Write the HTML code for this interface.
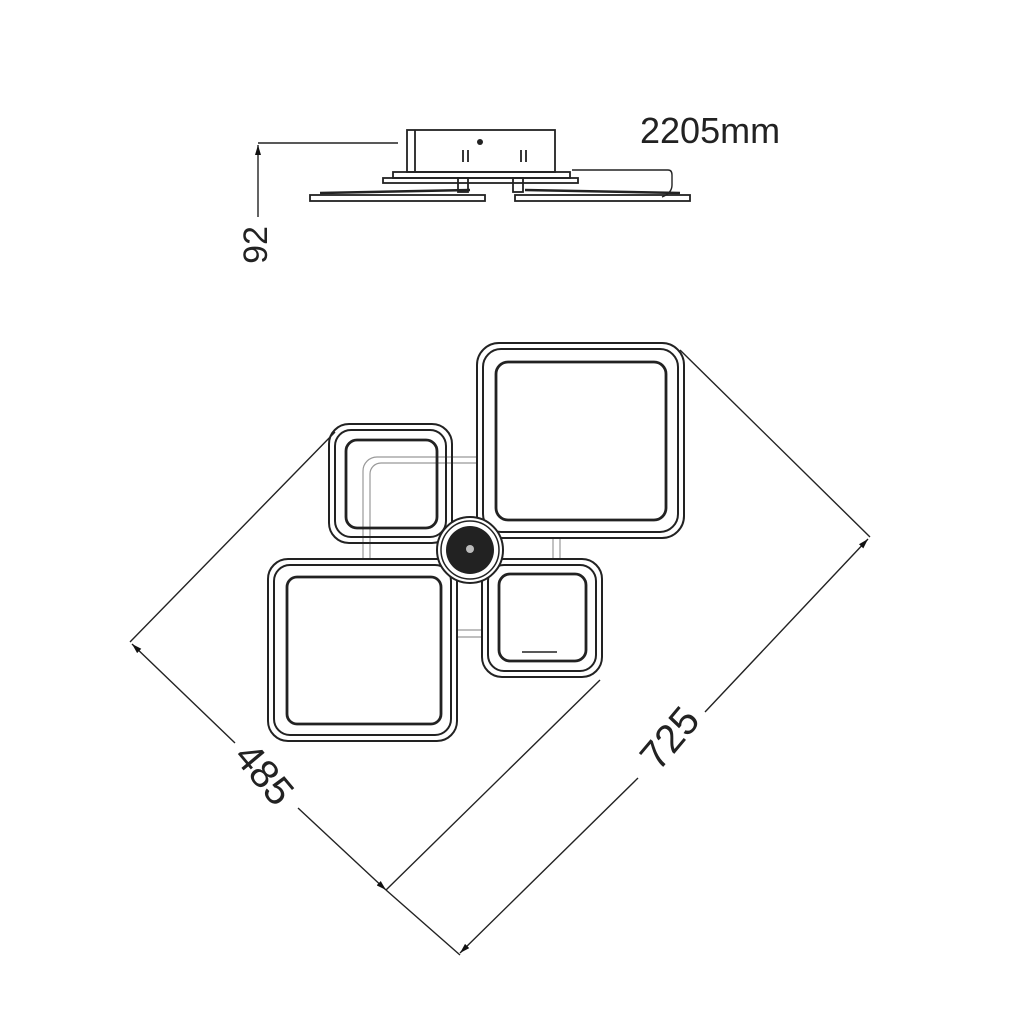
<!DOCTYPE html>
<html><head><meta charset="utf-8"><style>
html,body{margin:0;padding:0;background:#fff;width:1024px;height:1024px;overflow:hidden}
svg{display:block}
text{font-family:"Liberation Sans",sans-serif;fill:#222}
</style></head><body>
<svg width="1024" height="1024" viewBox="0 0 1024 1024" xmlns="http://www.w3.org/2000/svg">
<defs>
<marker id="ar" viewBox="0 0 10 10" refX="10" refY="5" markerWidth="10" markerHeight="10" orient="auto-start-reverse" markerUnits="userSpaceOnUse"><path d="M0,2 L10,5 L0,8 z" fill="#111"/></marker>
</defs>
<g stroke="#222" stroke-width="1.8" fill="none">
<rect x="407" y="130" width="148" height="42"/>
<line x1="415" y1="130" x2="415" y2="172"/>
<rect x="393" y="172" width="177" height="6"/>
<rect x="383" y="178" width="195" height="5"/>
<rect x="458" y="178" width="10" height="14"/>
<rect x="513" y="178" width="10" height="14"/>
<rect x="310" y="195" width="175" height="6"/>
<rect x="515" y="195" width="175" height="6"/>
<line x1="320" y1="193" x2="470" y2="190" stroke-width="2.5"/>
<line x1="525" y1="190" x2="680" y2="193" stroke-width="2.5"/>
<line x1="463" y1="150" x2="463" y2="162"/><line x1="468" y1="150" x2="468" y2="162"/>
<line x1="521" y1="150" x2="521" y2="162"/><line x1="526" y1="150" x2="526" y2="162"/>
</g>
<circle cx="480" cy="142" r="3" fill="#222"/>
<g stroke="#222" stroke-width="1.4" fill="none">
<line x1="258" y1="143" x2="398" y2="143"/>
<line x1="258" y1="217" x2="258" y2="145" marker-end="url(#ar)"/>
<path d="M572,170 L668,170 Q672,170 672,175 L672,185 Q672,193 662,197"/>
</g>
<text x="640" y="143" font-size="36">2205mm</text>
<text transform="translate(258,245) rotate(-90)" font-size="34" text-anchor="middle" dominant-baseline="middle">92</text>
<g stroke="#999" stroke-width="1.2" fill="none">
<rect x="363" y="457" width="197" height="180" rx="14"/>
<rect x="370" y="463" width="183" height="167" rx="11"/>
</g>
<g stroke="#222" fill="#fff" stroke-width="2">
<rect x="477" y="343" width="207" height="195" rx="22"/>
<rect x="483" y="349" width="195" height="183" rx="18" fill="none"/>
<rect x="496" y="362" width="170" height="158" rx="12" fill="none" stroke-width="2.8"/>
<rect x="329" y="424" width="123" height="119" rx="20" fill="none"/>
<rect x="335" y="430" width="111" height="107" rx="16" fill="none"/>
<rect x="346" y="440" width="91" height="88" rx="11" fill="none" stroke-width="2.8"/>
<rect x="268" y="559" width="189" height="182" rx="20"/>
<rect x="274" y="565" width="177" height="170" rx="16" fill="none"/>
<rect x="287" y="577" width="154" height="147" rx="10" fill="none" stroke-width="2.8"/>
<rect x="482" y="559" width="120" height="118" rx="20"/>
<rect x="488" y="565" width="108" height="106" rx="16" fill="none"/>
<rect x="499" y="574" width="87" height="87" rx="11" fill="none" stroke-width="2.8"/>
<line x1="522" y1="652" x2="557" y2="652" stroke-width="1.5"/>
</g>
<circle cx="470" cy="550" r="33" fill="#fff" stroke="#222" stroke-width="2"/>
<circle cx="470" cy="550" r="29" fill="none" stroke="#222" stroke-width="1.5"/>
<circle cx="470" cy="550" r="24" fill="#222"/>
<circle cx="470" cy="549" r="4" fill="#bbb"/>
<g stroke="#222" stroke-width="1.4" fill="none">
<line x1="680" y1="350" x2="870" y2="537"/>
<line x1="868" y1="539" x2="705" y2="712" marker-start="url(#ar)"/>
<line x1="638" y1="778" x2="460" y2="953" marker-end="url(#ar)"/>
<line x1="335" y1="432" x2="130" y2="642"/>
<line x1="132" y1="644" x2="235" y2="743" marker-start="url(#ar)"/>
<line x1="298" y1="808" x2="386" y2="890" marker-end="url(#ar)"/>
<line x1="386" y1="890" x2="460" y2="955"/>
<line x1="600" y1="680" x2="386" y2="890"/>
</g>
<text transform="translate(672,740) rotate(-50)" font-size="40" text-anchor="middle" dominant-baseline="middle">725</text>
<text transform="translate(262,776) rotate(50)" font-size="40" text-anchor="middle" dominant-baseline="middle">485</text>
</svg>
</body></html>
